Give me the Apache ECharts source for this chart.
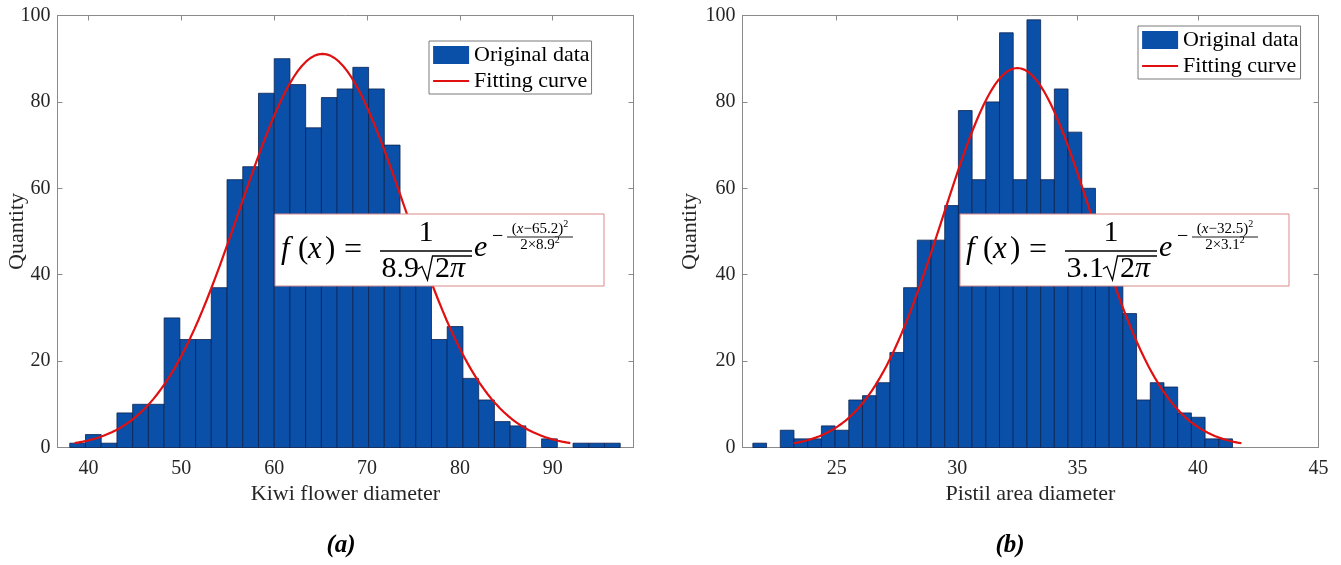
<!DOCTYPE html>
<html>
<head>
<meta charset="utf-8">
<title>Kiwi flower and pistil histograms</title>
<script src="https://cdn.jsdelivr.net/npm/echarts@6/dist/echarts.min.js"></script>
<style>
  html, body { margin: 0; padding: 0; background: #ffffff; }
  #chart { width: 1341px; height: 565px; }
</style>
</head>
<body>
<div id="chart"></div>
<script>
// ---- data -----------------------------------------------------------------
// (a) Kiwi flower diameter: 35 equal-width bins
const flowerCounts = [1, 3, 1, 8, 10, 10, 30, 25, 25, 37, 62, 65, 82, 90, 84, 74, 81, 83, 88,
                      83, 70, 50, 42, 25, 28, 16, 11, 6, 5, 0, 2, 0, 1, 1, 1];
const flowerBinRange = [37.98, 97.27];
const flowerFit = { mu: 65.2, sigma: 8.9 };
const flowerTicks = [40, 50, 60, 70, 80, 90];

// (b) Pistil area diameter: 35 equal-width bins
const pistilCounts = [1, 0, 4, 2, 2, 5, 4, 11, 12, 15, 22, 37, 48, 48, 56, 78, 62, 80, 96,
                      62, 99, 62, 83, 73, 60, 47, 41, 31, 11, 15, 14, 8, 7, 2, 2];
const pistilBinRange = [21.52, 41.43];
const pistilFit = { mu: 32.5, sigma: 3.1 };
const pistilTicks = [25, 30, 35, 40, 45];

const quantityTicks = [0, 20, 40, 60, 80, 100];
const seriesNames = ['Original data', 'Fitting curve'];
const axisTitles = ['Kiwi flower diameter', 'Pistil area diameter', 'Quantity'];
const captions = ['(a)', '(b)'];

// ---- styling ---------------------------------------------------------------
const SERIF = '"Liberation Serif", "Times New Roman", serif';
const BAR_FILL = '#0a4fa8';
const BAR_EDGE = '#0d2350';
const CURVE = '#e01010';
const AXIS_GRAY = '#8a8a8a';
const TEXT = '#262626';

// ---- helpers ---------------------------------------------------------------
function binRows(counts, range) {
  const w = (range[1] - range[0]) / counts.length;
  return counts.map((c, i) => [range[0] + i * w, range[0] + (i + 1) * w, c]);
}

// histfit-style normal curve over mu ± 3 sigma, scaled by sample count × bin width
function fitCurve(counts, range, fit) {
  const n = counts.reduce((a, b) => a + b, 0);
  const w = (range[1] - range[0]) / counts.length;
  const k = n * w / (fit.sigma * Math.sqrt(2 * Math.PI));
  const lo = fit.mu - 3 * fit.sigma, hi = fit.mu + 3 * fit.sigma;
  const pts = [];
  for (let i = 0; i <= 120; i++) {
    const x = lo + (hi - lo) * i / 120;
    pts.push([x, k * Math.exp(-((x - fit.mu) ** 2) / (2 * fit.sigma ** 2))]);
  }
  return pts;
}

function renderBin(params, api) {
  const h = api.value(2);
  if (!h) return null;
  const p0 = api.coord([api.value(0), 0]);
  const p1 = api.coord([api.value(1), h]);
  return {
    type: 'rect',
    shape: { x: p0[0], y: p1[1], width: p1[0] - p0[0], height: p0[1] - p1[1] },
    style: { fill: BAR_FILL, stroke: BAR_EDGE, lineWidth: 0.8 }
  };
}

const measureCtx = document.createElement('canvas').getContext('2d');
function textWidth(str, size, style) {
  measureCtx.font = (style || '') + ' ' + size + 'px ' + SERIF;
  return measureCtx.measureText(str).width;
}

function glyph(x, y, text, size, extra) {
  return {
    type: 'text', x: x, y: y, z: 110,
    style: Object.assign({
      text: text, fontSize: size, fontFamily: SERIF, fill: '#000',
      align: 'left', verticalAlign: 'middle'
    }, extra || {})
  };
}
function rule(x1, x2, y, width) {
  return {
    type: 'line', z: 110,
    shape: { x1: x1, y1: y, x2: x2, y2: y },
    style: { stroke: '#000', lineWidth: width || 1.2 }
  };
}

// f(x) = 1/(σ√2π) · e^(-(x-μ)²/(2×σ²)) inside a boxed label
function formulaLabel(bx, by, fit) {
  const cy = by + 36;
  const mu = fit.mu.toFixed(1), sg = fit.sigma.toFixed(1);
  const els = [{
    type: 'rect', z: 105,
    shape: { x: bx, y: by, width: 329, height: 72 },
    style: { fill: '#ffffff', stroke: '#d98a8a', lineWidth: 1 }
  }];
  // left-hand side
  els.push(glyph(bx + 6, cy, 'f', 31, { fontStyle: 'italic' }));
  els.push(glyph(bx + 23, cy, '(', 31));
  els.push(glyph(bx + 33, cy, 'x', 31, { fontStyle: 'italic' }));
  els.push(glyph(bx + 50, cy, ')', 31));
  els.push(glyph(bx + 69, cy + 1, '=', 32));
  // main fraction
  els.push(rule(bx + 105, bx + 197, cy + 1, 1.3));
  els.push(glyph(bx + 151, cy - 17, '1', 30, { align: 'center' }));
  els.push(glyph(bx + 144, cy + 19, sg, 30, { align: 'right' }));
  // radical sign drawn as a stroke, with its bar over "2π"
  els.push({
    type: 'polyline', z: 110,
    shape: { points: [[bx + 143, cy + 19], [bx + 147, cy + 16.5], [bx + 152.5, cy + 30],
                      [bx + 157.5, cy + 6], [bx + 197, cy + 6]] },
    style: { stroke: '#000', lineWidth: 1.3, fill: null, lineJoin: 'miter' }
  });
  els.push(glyph(bx + 160, cy + 19, '2', 30));
  els.push(glyph(bx + 160 + textWidth('2', 30), cy + 19, '\u03C0', 30, { fontStyle: 'italic' }));
  // exponential with its fractional exponent
  els.push(glyph(bx + 199, cy - 2, 'e', 30, { fontStyle: 'italic' }));
  els.push(glyph(bx + 217, cy - 13, '\u2212', 20));
  els.push(rule(bx + 232, bx + 298, cy - 13, 0.9));
  const ec = bx + 265;
  const numTail = '\u2212' + mu + ')';
  const numW = textWidth('(', 15) + textWidth('x', 15, 'italic') + textWidth(numTail, 15);
  const supW = textWidth('2', 10);
  let nx = ec - (numW + supW) / 2;
  els.push(glyph(nx, cy - 21, '(', 15)); nx += textWidth('(', 15);
  els.push(glyph(nx, cy - 21, 'x', 15, { fontStyle: 'italic' })); nx += textWidth('x', 15, 'italic');
  els.push(glyph(nx, cy - 21, numTail, 15)); nx += textWidth(numTail, 15);
  els.push(glyph(nx, cy - 26, '2', 10));
  const den = '2\u00D7' + sg;
  const denW = textWidth(den, 15);
  const dx = ec - (denW + supW) / 2;
  els.push(glyph(dx, cy - 5, den, 15));
  els.push(glyph(dx + denW, cy - 10, '2', 10));
  return els;
}

// ---- axes ------------------------------------------------------------------
const grids = [
  { left: 57.5, top: 15.5, width: 576, height: 432, outerBoundsMode: 'none', containLabel: false },
  { left: 742.5, top: 15.5, width: 576, height: 432, outerBoundsMode: 'none', containLabel: false }
];
const xRanges = [[36.66, 98.7], [21.09, 45]];
const xTicks = [flowerTicks, pistilTicks];
// y-title placement: panel (a) sits tight against the page edge
const yNameGaps = [29, 30];
const yNameMove = [false, true];

const xAxes = [], yAxes = [];
grids.forEach((g, gi) => {
  xAxes.push({
    type: 'value', gridIndex: gi, position: 'bottom',
    min: xRanges[gi][0], max: xRanges[gi][1],
    name: axisTitles[gi], nameLocation: 'middle', nameGap: 30,
    nameTextStyle: { fontFamily: SERIF, fontSize: 22, color: TEXT },
    axisLine: { show: true, onZero: false, lineStyle: { color: AXIS_GRAY, width: 1 } },
    axisTick: { show: true, inside: true, length: 5, customValues: xTicks[gi], lineStyle: { color: AXIS_GRAY } },
    axisLabel: { show: true, margin: 11, customValues: xTicks[gi], fontFamily: SERIF, fontSize: 20, color: TEXT },
    splitLine: { show: false }
  });
  xAxes.push({
    type: 'value', gridIndex: gi, position: 'top',
    min: xRanges[gi][0], max: xRanges[gi][1],
    axisLine: { show: true, onZero: false, lineStyle: { color: AXIS_GRAY, width: 1 } },
    axisTick: { show: true, inside: true, length: 5, customValues: xTicks[gi], lineStyle: { color: AXIS_GRAY } },
    axisLabel: { show: false },
    splitLine: { show: false }
  });
  yAxes.push({
    type: 'value', gridIndex: gi, position: 'left',
    min: 0, max: 100, interval: 20,
    name: axisTitles[2], nameLocation: 'middle', nameGap: yNameGaps[gi], nameRotate: 90,
    nameMoveOverlap: yNameMove[gi],
    nameTextStyle: { fontFamily: SERIF, fontSize: 22, color: TEXT },
    axisLine: { show: true, onZero: false, lineStyle: { color: AXIS_GRAY, width: 1 } },
    axisTick: { show: true, inside: true, length: 5, lineStyle: { color: AXIS_GRAY } },
    axisLabel: { show: true, margin: 7, fontFamily: SERIF, fontSize: 20, color: TEXT,
                 customValues: quantityTicks },
    splitLine: { show: false }
  });
  yAxes.push({
    type: 'value', gridIndex: gi, position: 'right',
    min: 0, max: 100, interval: 20,
    axisLine: { show: true, onZero: false, lineStyle: { color: AXIS_GRAY, width: 1 } },
    axisTick: { show: true, inside: true, length: 5, lineStyle: { color: AXIS_GRAY } },
    axisLabel: { show: false },
    splitLine: { show: false }
  });
});

// ---- series ----------------------------------------------------------------
const panels = [
  { counts: flowerCounts, range: flowerBinRange, fit: flowerFit },
  { counts: pistilCounts, range: pistilBinRange, fit: pistilFit }
];
const series = [];
panels.forEach((p, gi) => {
  series.push({
    name: seriesNames[0], type: 'custom',
    xAxisIndex: gi * 2, yAxisIndex: gi * 2,
    renderItem: renderBin, data: binRows(p.counts, p.range),
    itemStyle: { color: BAR_FILL }, z: 2, silent: true
  });
  series.push({
    name: seriesNames[1], type: 'line',
    xAxisIndex: gi * 2, yAxisIndex: gi * 2,
    data: fitCurve(p.counts, p.range, p.fit),
    showSymbol: false, symbol: 'none', smooth: false,
    lineStyle: { color: CURVE, width: 2.2 }, itemStyle: { color: CURVE },
    z: 3, silent: true, animation: false
  });
});

// ---- legends ---------------------------------------------------------------
function legendAt(left, top) {
  return {
    left: left, top: top, orient: 'vertical', selectedMode: false,
    itemWidth: 36, itemHeight: 18, itemGap: 4,
    padding: [3, 2, 2, 3],
    borderColor: '#7a7a7a', borderWidth: 1, backgroundColor: '#ffffff',
    textStyle: { fontFamily: SERIF, fontSize: 22, color: '#000' },
    data: [
      { name: seriesNames[0], icon: 'rect', itemStyle: { color: BAR_FILL, borderWidth: 0 } },
      { name: seriesNames[1], itemStyle: { opacity: 0 },
        lineStyle: { color: CURVE, width: 2.2, opacity: 1 } }
    ],
    z: 120
  };
}

// ---- chart -----------------------------------------------------------------
const chart = echarts.init(document.getElementById('chart'), null, { renderer: 'canvas' });
chart.setOption({
  animation: false,
  backgroundColor: '#ffffff',
  grid: grids,
  xAxis: xAxes,
  yAxis: yAxes,
  legend: [legendAt(429, 41), legendAt(1138, 26)],
  series: series,
  graphic: [
    ...formulaLabel(275, 214, flowerFit),
    ...formulaLabel(960, 214, pistilFit),
    {
      type: 'text', x: 341, y: 546, z: 110,
      style: { text: captions[0], fontFamily: SERIF, fontSize: 25, fontWeight: 'bold',
               fontStyle: 'italic', fill: '#000', align: 'center', verticalAlign: 'middle' }
    },
    {
      type: 'text', x: 1010, y: 546, z: 110,
      style: { text: captions[1], fontFamily: SERIF, fontSize: 25, fontWeight: 'bold',
               fontStyle: 'italic', fill: '#000', align: 'center', verticalAlign: 'middle' }
    }
  ]
});
</script>
</body>
</html>
